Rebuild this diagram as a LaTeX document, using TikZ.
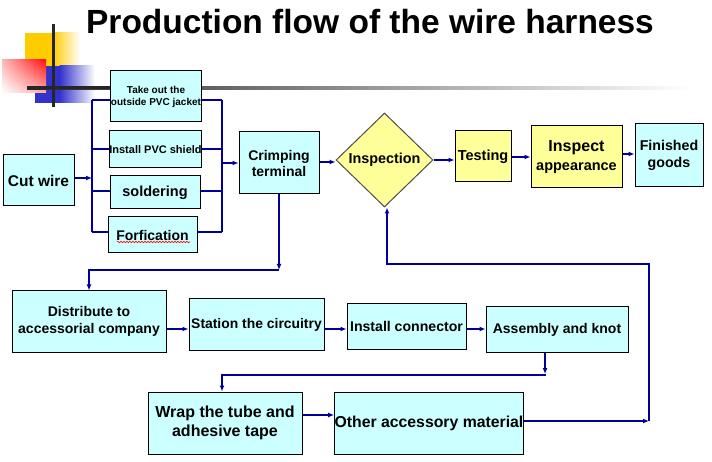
\documentclass[tikz,border=0pt]{standalone}
\usepackage{fontspec}
\setmainfont{Liberation Sans}
\usetikzlibrary{shapes.geometric,arrows.meta,decorations.pathmorphing,shadings}
\definecolor{boxcyan}{HTML}{CCFFFF}
\definecolor{boxyellow}{HTML}{FFFF99}
\definecolor{wireblue}{HTML}{000099}
\definecolor{decoyellow}{HTML}{FFCC00}
\definecolor{decoblue}{HTML}{3333CC}
\definecolor{decored}{HTML}{FF1010}
\begin{document}
\begin{tikzpicture}[x=1pt,y=-1pt,
  cbox/.style={draw=black, line width=1pt, fill=boxcyan, inner sep=0pt, align=center},
  ybox/.style={cbox, fill=boxyellow},
  wire/.style={draw=wireblue, line width=1.2pt},
  arr/.style={wire, -{Latex[length=6pt,width=5pt]}},
  fs/.style 2 args={font=\bfseries\fontsize{#1}{#2}\selectfont},
]
\useasboundingbox (0,0) rectangle (712,462);

% title
\node[font=\bfseries\fontsize{33.5}{38}\selectfont] (title) at (370,22) {Production flow of the wire harness};

% decoration
\fill[decoyellow] (25,33) rectangle (53,66);
\shade[left color=decoyellow, right color=white] (52.5,33) rectangle (80,66);
\fill[decoblue] (35,66) rectangle (60,103);
\shade[left color=decoblue, right color=white] (59.5,66) rectangle (95,103);
\shade[upper right=decored, lower left=white, upper left=decored!30!white, lower right=decored!35!white] (2,60) rectangle (46,93);
\shade[left color=black!85, right color=white] (27,86.5) rectangle (690,89.5);
\fill[black!85] (27,86.5) rectangle (110,89.5);
\fill[black!85] (51.5,24) rectangle (54.5,107);

% nodes
\node[cbox, minimum width=71, minimum height=51, fs={15.5}{18}] (cut) at (38.5,180.5) {Cut wire};
\node[cbox, minimum width=90, minimum height=51, fs={10}{12}] (jacket) at (156,96.5) {Take out the\\outside PVC jacket};
\node[cbox, minimum width=91, minimum height=37, fs={11}{13}] (shield) at (155.5,149.5) {Install PVC shield};
\node[cbox, minimum width=90, minimum height=33, fs={14.5}{17}] (solder) at (155,192.5) {soldering};
\node[cbox, minimum width=89, minimum height=36, fs={14}{17}] (forf) at (152.5,235) {Forfication};
\node[cbox, minimum width=80, minimum height=62, fs={14}{16}] (crimp) at (279,163) {Crimping\\terminal};
\node[diamond, draw=black!70, line width=1pt, fill=boxyellow, inner sep=0pt, minimum width=97, minimum height=94, fs={14.4}{16}] (dia) at (384.5,160) {Inspection};
\node[ybox, minimum width=56, minimum height=51, fs={14.5}{16}] (test) at (483,156.5) {Testing};
\node[ybox, minimum width=91, minimum height=62, fs={14.5}{19}] (inspa) at (576.5,157) {{\fontsize{16}{19}\selectfont Inspect}\\appearance};
\node[cbox, minimum width=68, minimum height=63, fs={14.2}{17}] (fin) at (669,155.5) {Finished\\goods};
\node[cbox, minimum width=154, minimum height=61, fs={14}{16.5}] (dist) at (89,321.5) {Distribute to\\accessorial company};
\node[cbox, minimum width=135, minimum height=51, fs={13.9}{15}] (station) at (256.5,324.5) {Station the circuitry};
\node[cbox, minimum width=119, minimum height=45, fs={14.1}{15}] (instc) at (406.5,326.5) {Install connector};
\node[cbox, minimum width=142, minimum height=45, fs={14}{15}] (assem) at (557,329.5) {Assembly and knot};
\node[cbox, minimum width=154, minimum height=62, fs={16}{19.5}] (wrap) at (225,423) {Wrap the tube and\\adhesive tape};
\node[cbox, minimum width=188, minimum height=62, fs={15.8}{17}] (other) at (429,423) {Other accessory material};

% spell-check squiggle
\draw[red, line width=0.6pt, decorate, decoration={snake, amplitude=0.8pt, segment length=3pt}] (117,242) -- (190,242);

% bracket
\coordinate (bl1) at (92,100);
\coordinate (bl2) at (92,149);
\coordinate (bl3) at (92,191);
\coordinate (bl4) at (92,232);
\coordinate (br1) at (222,100);
\coordinate (br2) at (222,149);
\coordinate (br3) at (222,191);
\coordinate (br4) at (222,232);
\draw[wire] (bl1) -- (bl4);
\draw[wire] (br1) -- (br4);
\draw[wire] (bl1) -- (bl1 -| jacket.west);
\draw[wire] (bl2) -- (bl2 -| shield.west);
\draw[wire] (bl3) -- (bl3 -| solder.west);
\draw[wire] (bl4) -- (bl4 -| forf.west);
\draw[wire] (br1) -- (br1 -| jacket.east);
\draw[wire] (br2) -- (br2 -| shield.east);
\draw[wire] (br3) -- (br3 -| solder.east);
\draw[wire] (br4) -- (br4 -| forf.east);
\draw[arr] (cut.east |- 0,178) -- (bl1 |- 0,178);
\draw[arr] (br1 |- crimp.west) -- (crimp.west);

% top row
\draw[arr] (crimp.east |- 0,162) -- (dia.west |- 0,162);
\draw[arr] (dia.east) -- (dia.east -| test.west);
\draw[arr] (test.east |- 0,157) -- (inspa.west |- 0,157);
\draw[arr] (inspa.east |- 0,154) -- (fin.west |- 0,154);

% down to second row
\coordinate (c1) at (279,270);
\draw[arr] (crimp.south) -- (c1);
\draw[arr] (c1) -| (dist.north);

% second row
\coordinate (r2) at (0,329);
\draw[arr] (dist.east |- r2) -- (station.west |- r2);
\draw[arr] (station.east |- r2) -- (instc.west |- r2);
\draw[arr] (instc.east |- r2) -- (assem.west |- r2);

% down to third row
\coordinate (a1) at (545,374);
\coordinate (w1) at (222,375);
\draw[arr] (a1 |- assem.south) -- (a1);
\draw[arr] (a1) |- (w1) -- (w1 |- wrap.north);

% third row
\coordinate (r3) at (0,415);
\draw[arr] (wrap.east |- r3) -- (other.west |- r3);
\coordinate (f1) at (649,421);
\coordinate (f2) at (649,264);
\coordinate (f3) at (387,264);
\draw[arr] (other.east |- f1) -- (f1);
\draw[arr] (f1) -- (f2) -- (f3) -- (f3 |- dia.south);
\end{tikzpicture}
\end{document}
